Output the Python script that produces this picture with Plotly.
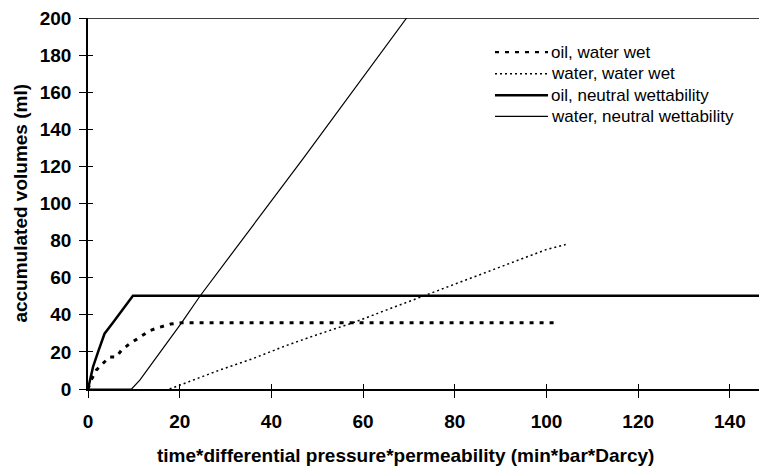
import plotly.graph_objects as go

# ---- data ----
x_oil_ww = [0, 0.7, 1.8, 3.3, 4.7, 6.2, 7.3, 9.1, 11.3, 13.5, 15.6, 18.0, 20.4, 102.7]
y_oil_ww = [0, 4.8, 10.2, 13.7, 17.3, 17.3, 20.9, 24.4, 28.0, 31.5, 33.3, 35.0, 35.7, 35.7]

x_water_ww = [17.8, 22.9, 28.7, 36.0, 43.3, 50.0, 57.8, 65.0, 72.4, 80.0, 90.0, 100.0, 104.2]
y_water_ww = [0, 4.8, 10.2, 16.4, 23.5, 29.3, 35.7, 42.5, 49.4, 56.5, 66.0, 75.2, 77.9]

x_oil_nw = [0, 0.4, 1.1, 2.2, 3.6, 5.5, 6.9, 8.4, 9.8, 148.1]
y_oil_nw = [0, 4.8, 11.9, 20.0, 29.8, 36.0, 40.5, 45.8, 50.3, 50.3]

x_water_nw = [0, 9.5, 11.3, 14.2, 17.8, 20.4, 24.4, 47.0, 69.5, 71.0]
y_water_nw = [0, 0, 4.8, 14.6, 27.1, 35.7, 50.0, 124.5, 200.0, 205.0]

series_names = ["oil, water wet", "water, water wet", "oil, neutral wettability",
                "water, neutral wettability"]
x_ticks = [0, 20, 40, 60, 80, 100, 120, 140]
y_ticks = [0, 20, 40, 60, 80, 100, 120, 140, 160, 180, 200]

x_title = "time*differential pressure*permeability (min*bar*Darcy)"
y_title = "accumulated volumes (ml)"

FONT = "Liberation Sans"

styles = [
    dict(color="black", width=3, dash="4px,6px"),
    dict(color="black", width=1.5, dash="2px,3px"),
    dict(color="black", width=2.5, dash="solid"),
    dict(color="black", width=1.2, dash="solid"),
]
xs = [x_oil_ww, x_water_ww, x_oil_nw, x_water_nw]
ys = [y_oil_ww, y_water_ww, y_oil_nw, y_water_nw]

fig = go.Figure()
for name, x, y, st in zip(series_names, xs, ys, styles):
    fig.add_trace(go.Scatter(x=x, y=y, mode="lines", name=name, line=st,
                             showlegend=False, hoverinfo="skip"))

# dummy trace for the overlay axes (inside half of the crossing ticks)
fig.add_trace(go.Scatter(x=[None], y=[None], xaxis="x2", yaxis="y2",
                         showlegend=False, hoverinfo="skip"))

XR = [0, 148.1]
YR = [0, 200]

# the page body adds an 8px offset, so the figure is 8px smaller
fig.update_layout(
    width=759, height=461,
    margin=dict(l=80, r=0, t=7, b=80),
    paper_bgcolor="white", plot_bgcolor="white",
    showlegend=False,
    xaxis=dict(range=XR, tickvals=x_ticks, ticks="outside", ticklen=7, tickwidth=1,
               tickcolor="black", showline=True, linecolor="black", linewidth=1.5,
               showgrid=False, zeroline=False, ticklabelstandoff=7,
               ticklabeloverflow="allow",
               tickfont=dict(family=FONT, size=19, color="black", weight="bold")),
    yaxis=dict(range=YR, tickvals=y_ticks, ticks="outside", ticklen=7, tickwidth=1,
               tickcolor="black", showline=True, linecolor="black", linewidth=1.5,
               showgrid=False, zeroline=False, ticklabelstandoff=4,
               ticklabeloverflow="allow",
               tickfont=dict(family=FONT, size=19, color="black", weight="bold")),
    xaxis2=dict(range=XR, overlaying="x", anchor="y2", tickvals=x_ticks, ticks="inside",
                ticklen=5, tickwidth=1, tickcolor="black", showticklabels=False,
                showline=False, showgrid=False, zeroline=False),
    yaxis2=dict(range=YR, overlaying="y", anchor="x2", side="left", tickvals=y_ticks,
                ticks="inside", ticklen=5, tickwidth=1, tickcolor="black",
                showticklabels=False, showline=False, showgrid=False, zeroline=False),
)

# top border line of the plot area
fig.add_shape(type="line", xref="paper", yref="y", x0=0, x1=1, y0=200, y1=200,
              line=dict(color="#404040", width=2), layer="below")

# axis titles
fig.add_annotation(text=x_title, xref="paper", yref="paper", x=0.467, y=-0.178,
                   showarrow=False, xanchor="center", yanchor="middle",
                   font=dict(family=FONT, size=19, color="black", weight="bold"))
fig.add_annotation(text=y_title, xref="paper", yref="paper", x=-0.1, y=0.50,
                   showarrow=False, xanchor="center", yanchor="middle", textangle=-90,
                   font=dict(family=FONT, size=19, color="black", weight="bold"))

# legend drawn as samples + labels
leg_rows = [0.908, 0.850, 0.792, 0.735]
for name, st, yy in zip(series_names, styles, leg_rows):
    fig.add_shape(type="line", xref="paper", yref="paper", x0=0.5994, x1=0.6775,
                  y0=yy, y1=yy, line=dict(color="black",
                                          width=min(st["width"], 2.2) if st["dash"] != "solid" else st["width"],
                                          dash=st["dash"]))
    fig.add_annotation(text=name, xref="paper", yref="paper", x=0.679, y=yy,
                       showarrow=False, xanchor="left", yanchor="middle",
                       font=dict(family=FONT, size=17, color="black"))

fig.write_html("out.html")
